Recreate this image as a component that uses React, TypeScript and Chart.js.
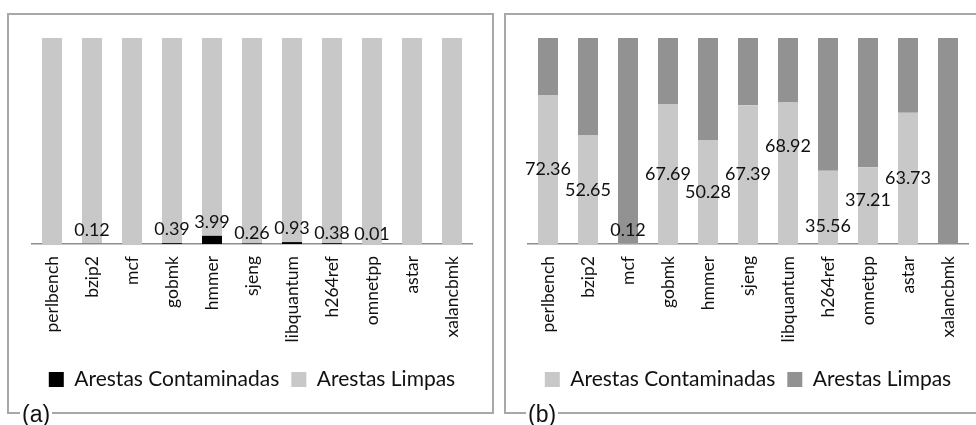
import React, { useEffect, useRef } from "react";
import { Chart, registerables } from "chart.js";
Chart.register(...registerables);

const benchmarks = ["perlbench", "bzip2", "mcf", "gobmk", "hmmer", "sjeng", "libquantum", "h264ref", "omnetpp", "astar", "xalancbmk"];
const seriesNames = ["Arestas Contaminadas", "Arestas Limpas"];

// Panel (a)
const contaminatedA = [0, 0.12, 0, 0.39, 3.99, 0.26, 0.93, 0.38, 0.01, 0, 0];
const cleanA = [100, 99.88, 100, 99.61, 96.01, 99.74, 99.07, 99.62, 99.99, 100, 100];
// Panel (b)
const contaminatedB = [72.36, 52.65, 0.12, 67.69, 50.28, 67.39, 68.92, 35.56, 37.21, 63.73, 0];
const cleanB = [27.64, 47.35, 99.88, 32.31, 49.72, 32.61, 31.08, 64.44, 62.79, 36.27, 100];

// label nudges (px) to mimic manual label placement in the original
const labelNudgeA = [0, 0, 0, 0, 0, 4, 0, 4, 4, 0, 0];
const labelNudgeB = [0, 0, 0, 0, 0, 0, -27, 19, -5, 0, 0];

const FONT = "Lato, 'Open Sans', sans-serif";
const TEXT = "#111";

const valueLabels = {
  id: "valueLabels",
  afterDatasetsDraw(chart: any, _args: any, opts: any) {
    const meta = chart.getDatasetMeta(0);
    const data = chart.data.datasets[0].data as number[];
    const ctx = chart.ctx;
    ctx.save();
    ctx.font = `${opts.size}px ${FONT}`;
    ctx.fillStyle = TEXT;
    ctx.textAlign = "center";
    ctx.textBaseline = "middle";
    meta.data.forEach((bar: any, i: number) => {
      const v = data[i];
      if (!v) return;
      const { x, y, base } = bar.getProps(["x", "y", "base"], true);
      const center = (y + base) / 2;
      const ly = (base - y > 28 ? center : y - 14) + (opts.nudge[i] || 0);
      ctx.fillText(v.toFixed(2), x, ly);
    });
    ctx.restore();
  },
};

function Panel({ cont, clean, colors, nudge, padLeft, padRight }: any) {
  const ref = useRef<HTMLCanvasElement>(null);
  useEffect(() => {
    const chart = new Chart(ref.current!, {
      type: "bar",
      data: {
        labels: benchmarks,
        datasets: [
          { label: seriesNames[0], data: cont, backgroundColor: colors[0], barPercentage: 0.5, categoryPercentage: 1 },
          { label: seriesNames[1], data: clean, backgroundColor: colors[1], barPercentage: 0.5, categoryPercentage: 1 },
        ],
      },
      options: {
        animation: false,
        responsive: false,
        maintainAspectRatio: false,
        layout: { padding: { left: padLeft, right: padRight, top: 23, bottom: 12 } },
        scales: {
          x: {
            stacked: true,
            grid: { display: false, drawTicks: false },
            border: { display: true, color: "#8e8e8e", width: 1.5 },
            ticks: { minRotation: 90, maxRotation: 90, autoSkip: false, padding: 12, color: TEXT, font: { family: FONT, size: 17.5 } },
            afterFit: (s: any) => { s.height = 113; },
          },
          y: { stacked: true, display: false, min: 0, max: 100 },
        },
        plugins: {
          legend: {
            position: "bottom",
            labels: { boxWidth: 15, boxHeight: 15, padding: 12, color: TEXT, font: { family: FONT, size: 21 } },
          },
          tooltip: { enabled: false },
          valueLabels: { size: 18, nudge },
        } as any,
      },
      plugins: [valueLabels],
    });
    return () => chart.destroy();
  }, []);
  return <canvas ref={ref} width={483} height={397} style={{ width: 483, height: 397, display: "block" }} />;
}

const panelBox = (left: number, width: number): React.CSSProperties => ({
  position: "absolute",
  left,
  top: 13,
  width,
  height: 397,
  border: "2px solid #a8a8a8",
  background: "#fff",
});

const tagStyle = (left: number): React.CSSProperties => ({
  position: "absolute",
  left,
  top: 403,
  font: "23px 'Liberation Sans', Arial, sans-serif",
  lineHeight: "23px",
  background: "#fff",
  padding: "0 2px",
  color: "#111",
});

export default function App() {
  return (
    <div style={{ position: "fixed", left: 0, top: 0, width: 976, height: 425, overflow: "hidden", background: "#fff" }}>
      <div style={panelBox(7, 483)}>
        <Panel cont={contaminatedA} clean={cleanA} colors={["#000000", "#c8c8c8"]} nudge={labelNudgeA} padLeft={23} padRight={20} />
      </div>
      <div style={panelBox(504, 483)}>
        <Panel cont={contaminatedB} clean={cleanB} colors={["#c8c8c8", "#929292"]} nudge={labelNudgeB} padLeft={22} padRight={21} />
      </div>
      <span style={tagStyle(20)}>(a)</span>
      <span style={tagStyle(526)}>(b)</span>
    </div>
  );
}
